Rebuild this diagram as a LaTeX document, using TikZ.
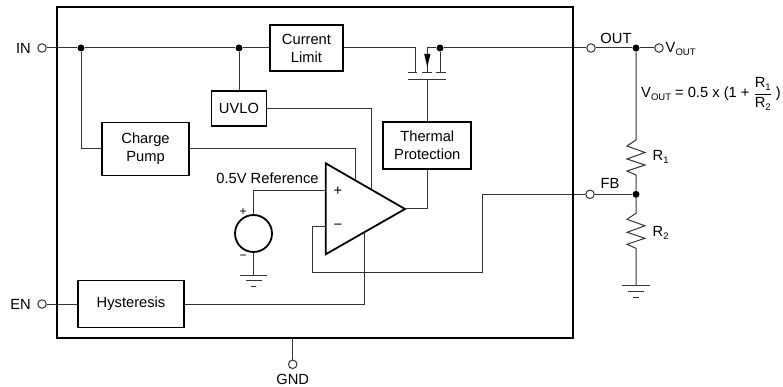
\documentclass[tikz,border=0pt]{standalone}
\usepackage{fontspec}
\setmainfont{Liberation Sans}
\usetikzlibrary{calc}
\newcommand\myfs{\fontsize{14.7}{18}\selectfont}
\newcommand\mysub[1]{\raisebox{-0.35ex}{\fontsize{9.5}{10}\selectfont #1}}
\begin{document}
\begin{tikzpicture}[x=1pt,y=-1pt,
  wire/.style={draw=black!80,line width=1pt},
  blk/.style={draw,line width=1.8pt,fill=white,inner sep=0pt,align=center,font=\myfs},
  pin/.style={circle,draw=black!80,line width=1pt,fill=white,minimum size=8.5pt,inner sep=0pt},
  jn/.style={circle,fill=black,minimum size=7pt,inner sep=0pt},
  lbl/.style={font=\myfs,inner sep=0pt},
  gndsym/.pic={\draw[wire] (-13.8,0) -- (13.8,0);
               \draw[wire] (-8,5.8) -- (8,5.8);
               \draw[wire] (-2.6,11.8) -- (2.6,11.8);}]
\useasboundingbox (0,0) rectangle (783,387);

% blocks
\node[blk,minimum width=73pt,minimum height=46pt] (cl) at (306.5,48) {Current\\Limit};
\node[blk,minimum width=55pt,minimum height=35pt] (uvlo) at (239,108.5) {UVLO};
\node[blk,minimum width=87pt,minimum height=53pt] (cp) at (145.5,149) {Charge\\Pump};
\node[blk,minimum width=88pt,minimum height=47pt] (tp) at (427.3,145.5) {Thermal\\Protection};
\node[blk,minimum width=106pt,minimum height=47pt] (hy) at (131,304) {Hysteresis};
\node[circle,draw,line width=1.8pt,minimum size=37pt,inner sep=0pt] (src) at (253.5,233.5) {};

% pins
\node[pin] (in) at (42,48) {};
\node[pin] (en) at (42,304) {};
\node[pin] (gnd) at (292.7,364.3) {};
\node[pin] (out) at (591,48) {};
\node[pin] (vout) at (659,48) {};
\node[pin] (fb) at (590,194.3) {};

% junctions
\node[jn] (j1) at (81,48) {};
\node[jn] (j2) at (239,48) {};
\node[jn] (j3) at (440,48) {};
\node[jn] (jo) at (636,48) {};
\node[jn] (jf) at (636,194.3) {};

% opamp
\coordinate (oa1) at (325.7,163.3);
\coordinate (oa2) at (325.7,254.3);
\coordinate (oat) at (405,209);
\coordinate (tcp) at ($(oa1)!0.3695!(oat)$);
\coordinate (tuv) at ($(oa1)!0.5712!(oat)$);
\coordinate (bhy) at ($(oa2)!0.4868!(oat)$);
\coordinate (ip) at (325.7,190.7);
\coordinate (im) at (325.7,226.7);
\draw[line width=1.8pt,line join=miter,fill=white] (oa1) -- (oat) -- (oa2) -- cycle;
\node[lbl] (plus) at (338,191) {+};
\node[lbl] (minus) at (338,227) {\char"2212};

% wires
\draw[wire] (in) -- (j1) -- (j2) -- (cl.west);
\draw[wire] (j2) -- (uvlo.north);
\draw[wire] (j1) |- (cp.west);
\draw[wire] (cp.east) -| (tcp);
\draw[wire] (uvlo.east) -| (tuv);
\draw[wire] (en) -- (hy.west);
\draw[wire] (hy.east) -| (bhy);
\draw[wire] (src.north) |- (ip);
\coordinate (sg) at (253.5,275);
\draw[wire] (src.south) -- (sg);
\pic at (sg) {gndsym};
\draw[wire] (im) -| (312.7,272.7) -| (482,194.3) -- (fb);
\draw[wire] (fb) -- (jf);
\draw[wire] (oat) -| (tp.south);

% MOSFET
\coordinate (md) at (415,72.3);
\coordinate (ms) at (427.3,72.3);
\coordinate (mb) at (440,72.3);
\coordinate (mg) at (427.3,79.3);
\draw[wire] (cl.east) -| (md);
\draw[wire] ($(md)+(-7,0)$) -- ($(md)+(1.7,0)$);
\draw[wire] (j3) -| (ms);
\fill[black] (424.2,54) -- (430.4,54) -- (427.3,67) -- cycle;
\draw[wire] ($(ms)+(-5.6,0)$) -- ($(ms)+(4.4,0)$);
\draw[wire] (j3) -- (mb);
\draw[wire] ($(mb)+(-4,0)$) -- ($(mb)+(6,0)$);
\draw[wire] (408,79.3) -- (446,79.3);
\draw[wire] (mg) -- (tp.north);

% output side
\draw[wire] (j3) -- (out) -- (jo) -- (vout);
\draw[wire] (jo) -- (636,140) -- (627,146) -- (645,152.5) -- (627,159) -- (645,165) -- (627,171) -- (636,175) -- (jf);
\coordinate (rg) at (636,285.7);
\draw[wire] (jf) -- (636,213.3) -- (627,219.3) -- (645,225.8) -- (627,232.3) -- (645,238.3) -- (627,244.3) -- (636,248.3) -- (rg);
\pic at (rg) {gndsym};

% chip outline
\node[draw,line width=2.2pt,minimum width=516pt,minimum height=330.7pt,inner sep=0pt] (chip) at (315,172.35) {};
\draw[wire] (chip.south -| gnd) -- (gnd);

% labels
\node[lbl,anchor=east] (inl) at (31,48) {IN};
\node[lbl,anchor=east] (enl) at (31,304) {EN};
\node[lbl] (gndl) at (292.7,379) {GND};
\node[lbl] (outl) at (616,38) {OUT};
\node[lbl,anchor=west] (voutl) at (665.5,49) {V\mysub{OUT}};
\node[lbl] (fbl) at (610,183) {FB};
\node[lbl,anchor=west] (r1l) at (652.5,157) {R\mysub{1}};
\node[lbl,anchor=west] (r2l) at (652.5,233) {R\mysub{2}};
\node[lbl] (refl) at (267.5,178.5) {0.5V Reference};
\node[lbl,font=\fontsize{12}{12}\selectfont] (sp) at (243,212) {+};
\node[lbl,font=\fontsize{12}{12}\selectfont] (sm) at (243,257.5) {\char"2212};
\node[lbl,anchor=west] (eq) at (641,94) {V\mysub{OUT} = 0.5 x (1 + $\displaystyle\frac{\mbox{R\mysub{1}}}{\mbox{R\mysub{2}}}$ )};
\end{tikzpicture}
\end{document}
